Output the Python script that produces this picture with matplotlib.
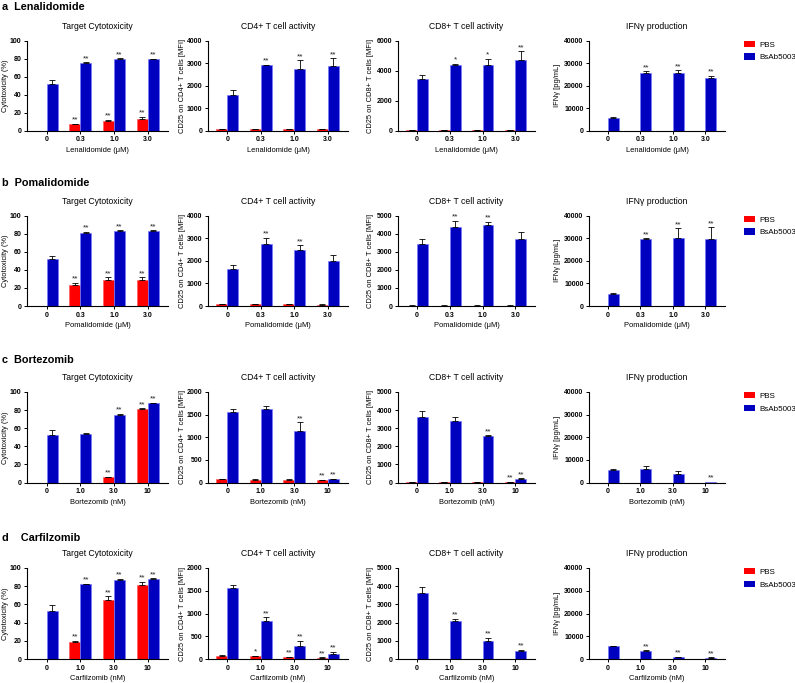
import matplotlib
matplotlib.use('Agg')
import matplotlib.pyplot as plt
from matplotlib.patches import Patch

plt.rcParams['font.family'] = ['Liberation Sans', 'DejaVu Sans']

RED = '#ff0000'
BLUE = '#0000bf'

# ---- a Lenalidomide ----
len_ticks = ['0', '0.3', '1.0', '3.0']
len_cyto_pbs, len_cyto_pbs_err = [0, 7.4, 11.0, 13.0], [0, 0.5, 1.3, 2.3]
len_cyto_bsab, len_cyto_bsab_err = [51.8, 75.3, 79.5, 79.6], [4.0, 0.6, 0.8, 0.5]
len_cyto_sig = (['', '**', '**', '**'], ['', '**', '**', '**'])
len_cd4_pbs, len_cd4_pbs_err = [75, 70, 70, 75], [20, 10, 15, 20]
len_cd4_bsab, len_cd4_bsab_err = [1590, 2900, 2730, 2890], [240, 20, 400, 320]
len_cd4_sig = (['', '', '', ''], ['', '**', '**', '**'])
len_cd8_pbs, len_cd8_pbs_err = [25, 25, 25, 25], [5, 5, 5, 5]
len_cd8_bsab, len_cd8_bsab_err = [3430, 4390, 4370, 4730], [300, 90, 420, 560]
len_cd8_sig = (['', '', '', ''], ['', '*', '*', '**'])
len_ifn_pbs, len_ifn_pbs_err = [0, 0, 0, 0], [0, 0, 0, 0]
len_ifn_bsab, len_ifn_bsab_err = [5500, 25600, 25600, 23400], [600, 900, 1300, 900]
len_ifn_sig = (['', '', '', ''], ['', '**', '**', '**'])

# ---- b Pomalidomide ----
pom_ticks = ['0', '0.3', '1.0', '3.0']
pom_cyto_pbs, pom_cyto_pbs_err = [0, 22.9, 28.8, 29.2], [0, 2.6, 2.9, 2.5]
pom_cyto_bsab, pom_cyto_bsab_err = [51.5, 81.2, 83.0, 83.0], [4.2, 0.7, 0.7, 0.7]
pom_cyto_sig = (['', '**', '**', '**'], ['', '**', '**', '**'])
pom_cd4_pbs, pom_cd4_pbs_err = [70, 80, 75, 65], [20, 20, 20, 15]
pom_cd4_bsab, pom_cd4_bsab_err = [1620, 2740, 2470, 1985], [210, 290, 220, 265]
pom_cd4_sig = (['', '', '', ''], ['', '**', '**', ''])
pom_cd8_pbs, pom_cd8_pbs_err = [25, 25, 25, 25], [5, 5, 5, 5]
pom_cd8_bsab, pom_cd8_bsab_err = [3440, 4400, 4500, 3720], [260, 320, 150, 370]
pom_cd8_sig = (['', '', '', ''], ['', '**', '**', ''])
pom_ifn_pbs, pom_ifn_pbs_err = [0, 0, 0, 0], [0, 0, 0, 0]
pom_ifn_bsab, pom_ifn_bsab_err = [5450, 29700, 30100, 29800], [450, 300, 4300, 5000]
pom_ifn_sig = (['', '', '', ''], ['', '**', '**', '**'])

# ---- c Bortezomib ----
bor_ticks = ['0', '1.0', '3.0', '10']
bor_cyto_pbs, bor_cyto_pbs_err = [0, 0, 5.9, 81.2], [0, 0, 0.6, 0.8]
bor_cyto_bsab, bor_cyto_bsab_err = [52.8, 53.1, 74.5, 87.5], [5.5, 2.0, 1.5, 0.5]
bor_cyto_sig = (['', '', '**', '**'], ['', '', '**', '**'])
bor_cd4_pbs, bor_cd4_pbs_err = [75, 65, 65, 45], [10, 15, 10, 10]
bor_cd4_bsab, bor_cd4_bsab_err = [1557, 1616, 1144, 75], [65, 75, 190, 10]
bor_cd4_sig = (['', '', '', '**'], ['', '', '**', '**'])
bor_cd8_pbs, bor_cd8_pbs_err = [20, 20, 20, 30], [5, 5, 5, 5]
bor_cd8_bsab, bor_cd8_bsab_err = [3630, 3410, 2555, 185], [310, 220, 55, 40]
bor_cd8_sig = (['', '', '', '**'], ['', '', '**', '**'])
bor_ifn_pbs, bor_ifn_pbs_err = [0, 0, 0, 0], [0, 0, 0, 0]
bor_ifn_bsab, bor_ifn_bsab_err = [5500, 5900, 3700, 200], [250, 1400, 1400, 0]
bor_ifn_sig = (['', '', '', ''], ['', '', '', '**'])

# ---- d Carfilzomib ----
car_ticks = ['0', '1.0', '3.0', '10']
car_cyto_pbs, car_cyto_pbs_err = [0, 18.5, 64.6, 80.8], [0, 1.5, 4.4, 4.0]
car_cyto_bsab, car_cyto_bsab_err = [53.1, 81.9, 87.1, 87.5], [6.0, 0.5, 1.0, 1.0]
car_cyto_sig = (['', '**', '**', '**'], ['', '**', '**', '**'])
car_cd4_pbs, car_cd4_pbs_err = [75, 55, 35, 25], [10, 10, 10, 10]
car_cd4_bsab, car_cd4_bsab_err = [1550, 827, 295, 118], [75, 90, 100, 37]
car_cd4_sig = (['', '*', '**', '**'], ['', '**', '**', '**'])
car_cd8_pbs, car_cd8_pbs_err = [20, 20, 20, 20], [5, 5, 5, 5]
car_cd8_bsab, car_cd8_bsab_err = [3630, 2070, 980, 445], [310, 150, 200, 75]
car_cd8_sig = (['', '', '', ''], ['', '**', '**', '**'])
car_ifn_pbs, car_ifn_pbs_err = [0, 0, 0, 0], [0, 0, 0, 0]
car_ifn_bsab, car_ifn_bsab_err = [5600, 3400, 880, 600], [250, 350, 200, 100]
car_ifn_sig = (['', '', '', ''], ['', '**', '**', '**'])

row_titles = ['a  Lenalidomide', 'b  Pomalidomide', 'c  Bortezomib', 'd    Carfilzomib']
row_xlabels = ['Lenalidomide (\u03bcM)', 'Pomalidomide (\u03bcM)', 'Bortezomib (nM)', 'Carfilzomib (nM)']
row_ticks = [len_ticks, pom_ticks, bor_ticks, car_ticks]
panel_titles = ['Target Cytotoxicity', 'CD4+ T cell activity', 'CD8+ T cell activity', 'IFN\u03b3 production']
panel_ylabels = ['Cytotoxicity (%)', 'CD25 on CD4+ T cells [MFI]', 'CD25 on CD8+ T cells [MFI]', 'IFN\u03b3 [pg/mL]']

rows = [
    [(len_cyto_pbs, len_cyto_pbs_err, len_cyto_bsab, len_cyto_bsab_err, len_cyto_sig, 100, 20),
     (len_cd4_pbs, len_cd4_pbs_err, len_cd4_bsab, len_cd4_bsab_err, len_cd4_sig, 4000, 1000),
     (len_cd8_pbs, len_cd8_pbs_err, len_cd8_bsab, len_cd8_bsab_err, len_cd8_sig, 6000, 2000),
     (len_ifn_pbs, len_ifn_pbs_err, len_ifn_bsab, len_ifn_bsab_err, len_ifn_sig, 40000, 10000)],
    [(pom_cyto_pbs, pom_cyto_pbs_err, pom_cyto_bsab, pom_cyto_bsab_err, pom_cyto_sig, 100, 20),
     (pom_cd4_pbs, pom_cd4_pbs_err, pom_cd4_bsab, pom_cd4_bsab_err, pom_cd4_sig, 4000, 1000),
     (pom_cd8_pbs, pom_cd8_pbs_err, pom_cd8_bsab, pom_cd8_bsab_err, pom_cd8_sig, 5000, 1000),
     (pom_ifn_pbs, pom_ifn_pbs_err, pom_ifn_bsab, pom_ifn_bsab_err, pom_ifn_sig, 40000, 10000)],
    [(bor_cyto_pbs, bor_cyto_pbs_err, bor_cyto_bsab, bor_cyto_bsab_err, bor_cyto_sig, 100, 20),
     (bor_cd4_pbs, bor_cd4_pbs_err, bor_cd4_bsab, bor_cd4_bsab_err, bor_cd4_sig, 2000, 500),
     (bor_cd8_pbs, bor_cd8_pbs_err, bor_cd8_bsab, bor_cd8_bsab_err, bor_cd8_sig, 5000, 1000),
     (bor_ifn_pbs, bor_ifn_pbs_err, bor_ifn_bsab, bor_ifn_bsab_err, bor_ifn_sig, 40000, 10000)],
    [(car_cyto_pbs, car_cyto_pbs_err, car_cyto_bsab, car_cyto_bsab_err, car_cyto_sig, 100, 20),
     (car_cd4_pbs, car_cd4_pbs_err, car_cd4_bsab, car_cd4_bsab_err, car_cd4_sig, 2000, 500),
     (car_cd8_pbs, car_cd8_pbs_err, car_cd8_bsab, car_cd8_bsab_err, car_cd8_sig, 5000, 1000),
     (car_ifn_pbs, car_ifn_pbs_err, car_ifn_bsab, car_ifn_bsab_err, car_ifn_sig, 40000, 10000)],
]

W, H = 795.0, 683.0
col_px = [(27, 168), (208, 348), (398, 535), (589, 725)]
row_px = [(40.7, 130.7), (215.7, 306), (392, 482.5), (568, 659)]
row_title_y = [7, 183, 360, 538]
ylabel_off = [-18.5, -22, -24, -28]  # right edge of the ylabel, px left of the y axis
BW = 0.33


def draw_bars(ax, xs, vals, errs, sig, color, edge, ymax):
    ax.bar(xs, vals, BW, color=color, edgecolor=edge, linewidth=0.5, zorder=2)
    for x, v, e, s in zip(xs, vals, errs, sig):
        if e > 0:
            ax.errorbar([x], [v], yerr=[[0], [e]], fmt='none', ecolor='black',
                        elinewidth=0.6, capsize=2.2, capthick=0.6, zorder=3)
        if s:
            ax.text(x, v + e + ymax * 0.002, s, ha='center', va='bottom',
                    fontsize=6, color='#222222')


fig = plt.figure(figsize=(W / 100, H / 100), dpi=100)

for r, panels in enumerate(rows):
    fig.text(2 / W, 1 - row_title_y[r] / H, row_titles[r], fontsize=7.8,
             fontweight='bold', ha='left', va='center')
    top, bot = row_px[r]
    for c, (pbs, pbs_err, bsab, bsab_err, sig, ymax, ystep) in enumerate(panels):
        l, rr = col_px[c]
        ax = fig.add_axes([l / W, 1 - bot / H, (rr - l) / W, (bot - top) / H])
        xs = list(range(4))
        draw_bars(ax, [x - BW / 2 for x in xs], pbs, pbs_err, sig[0], RED, '#ff6060', ymax)
        draw_bars(ax, [x + BW / 2 for x in xs], bsab, bsab_err, sig[1], BLUE, '#7a7aff', ymax)

        ax.set_xlim(-0.58, 3.6)
        ax.set_ylim(0, ymax)
        ax.set_yticks(list(range(0, ymax + 1, ystep)))
        ax.set_xticks(xs)
        ax.set_xticklabels(row_ticks[r])
        ax.tick_params(axis='both', labelsize=5, length=2.5, width=0.7, pad=1.5)
        for lab in ax.get_xticklabels() + ax.get_yticklabels():
            lab.set_fontweight('bold')
        ax.spines['top'].set_visible(False)
        ax.spines['right'].set_visible(False)
        ax.spines['left'].set_linewidth(0.8)
        ax.spines['bottom'].set_linewidth(0.8)
        ax.set_xlabel(row_xlabels[r], fontsize=5.4, labelpad=2.5)
        ax.set_ylabel(panel_ylabels[c], fontsize=5.4)
        ax.yaxis.set_label_coords(ylabel_off[c] / (rr - l), 0.5)
        ax.text(0.5, 1 + 14.5 / (bot - top), panel_titles[c], transform=ax.transAxes,
                ha='center', va='center', fontsize=6.2)

        if c == 3:
            ax.legend(handles=[Patch(facecolor=RED, label='PBS'),
                               Patch(facecolor=BLUE, label='BsAb5003')],
                      loc='upper left', bbox_to_anchor=(1.14, 1.0), frameon=False,
                      fontsize=5.8, handlelength=1.35, handleheight=0.8,
                      borderaxespad=0, borderpad=0, labelspacing=0.6,
                      handletextpad=0.5)

fig.savefig('out.png', dpi=100)
